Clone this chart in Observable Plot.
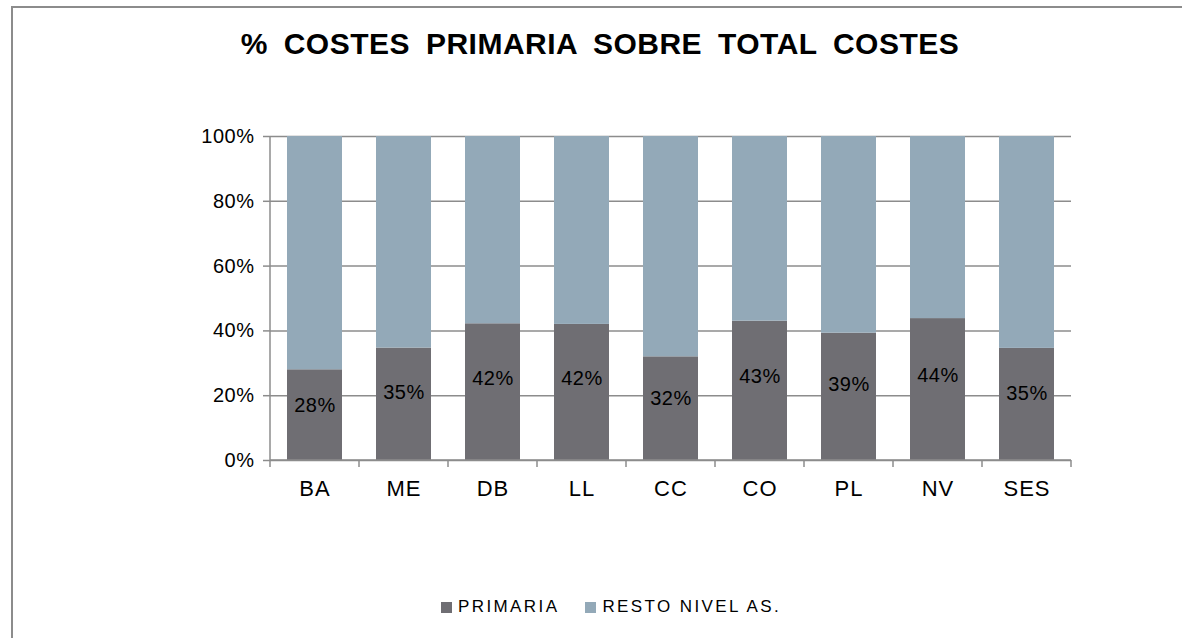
<!DOCTYPE html>
<html><head><meta charset="utf-8">
<script src="https://cdn.jsdelivr.net/npm/d3@7"></script>
<script src="https://cdn.jsdelivr.net/npm/@observablehq/plot@0.6"></script>
<style>
html,body{margin:0;padding:0;background:#fff;overflow:hidden;width:1182px;height:638px;}
#wrap{position:relative;width:1182px;height:638px;font-family:"Liberation Sans",Arial,sans-serif;overflow:hidden;}
#border{position:absolute;left:11px;top:6px;width:1400px;height:900px;border:2px solid #8c8c8c;box-sizing:border-box;}
#title{position:absolute;left:0;width:1200px;top:27px;text-align:center;font-weight:bold;font-size:30px;letter-spacing:0.5px;word-spacing:7px;color:#000;}
#chart{position:absolute;left:0;top:0;}
#legend{position:absolute;left:441px;top:597px;display:flex;align-items:center;font-size:17px;letter-spacing:2.4px;color:#000;}
#legend .sw{width:11px;height:11px;display:inline-block;margin-right:6px;}
#legend .item{display:flex;align-items:center;margin-right:26px;}
</style></head>
<body><div id="wrap">
<div id="border"></div>
<div id="chart"></div>
<div id="title">% COSTES PRIMARIA SOBRE TOTAL COSTES</div>
<div id="legend"></div>
</div>
<script>
const categories = ["BA","ME","DB","LL","CC","CO","PL","NV","SES"];
const primaria = [0.28,0.347,0.422,0.42,0.32,0.43,0.393,0.438,0.346];
const seriesNames = ["PRIMARIA","RESTO NIVEL AS."];
const seriesColors = ["#6f6e73","#93a9b8"];
const yTicks = [0,0.2,0.4,0.6,0.8,1];

const rows = [];
categories.forEach((c,i)=>{
  rows.push({cat:c, series:seriesNames[0], value:primaria[i]});
  rows.push({cat:c, series:seriesNames[1], value:1-primaria[i]});
});
const labels = categories.map((c,i)=>({cat:c, value:primaria[i]}));

const W=1182,H=638, mL=270, mR=111, mT=136, mB=178;
const gridColor="#8c8c8c";
const chart = Plot.plot({
  width:W, height:H, marginLeft:mL, marginRight:mR, marginTop:mT, marginBottom:mB,
  style:{fontFamily:'"Liberation Sans",Arial,sans-serif', color:"#000", background:"transparent", overflow:"visible"},
  x:{domain:categories, paddingInner:0.38, paddingOuter:0.19, label:null},
  y:{domain:[0,1], label:null},
  color:{domain:seriesNames, range:seriesColors},
  marks:[
    Plot.gridY(yTicks,{stroke:gridColor, strokeOpacity:1, strokeWidth:1.5}),
    Plot.barY(rows,{x:"cat", y:"value", fill:"series"}),
    Plot.text(labels,{x:"cat", y:d=>d.value*0.6, text:d=>Math.round(d.value*100)+"%", fontSize:20, fill:"#000"}),
    Plot.axisY({ticks:yTicks, tickFormat:d3.format(".0%"), tickSize:7, tickPadding:9, fontSize:20, stroke:gridColor, strokeWidth:1.5, label:null}),
    Plot.axisX({tickSize:0, tickPadding:20, fontSize:22, label:null})
  ]
});
document.getElementById("chart").appendChild(chart);

d3.select(chart).selectAll('g[aria-label="y-axis tick label"] text').style("letter-spacing","0.5px");
d3.select(chart).selectAll('g[aria-label="x-axis tick label"] text').style("letter-spacing","1px");
d3.select(chart).selectAll('g[aria-label="text"] text').style("letter-spacing","0.5px");

// Excel-style axis lines and boundary ticks, from the plot's own scales
const sx = chart.scale("x"), sy = chart.scale("y");
const [x0,x1] = sx.range;
const yb = sy.apply(0), yt = sy.apply(1);
const g = d3.select(chart).append("g").attr("stroke",gridColor).attr("stroke-width",1.5);
g.append("line").attr("x1",x0).attr("x2",x0).attr("y1",yt).attr("y2",yb);
g.append("line").attr("x1",x0).attr("x2",x1).attr("y1",yb).attr("y2",yb);
const step = (x1-x0)/categories.length;
d3.range(categories.length+1).forEach(i=>{
  g.append("line").attr("x1",x0+i*step).attr("x2",x0+i*step).attr("y1",yb).attr("y2",yb+7);
});

// legend
const lg = d3.select("#legend");
seriesNames.forEach((s,i)=>{
  const it = lg.append("div").attr("class","item");
  it.append("span").attr("class","sw").style("background",seriesColors[i]);
  it.append("span").text(s);
});
</script>
</body></html>
